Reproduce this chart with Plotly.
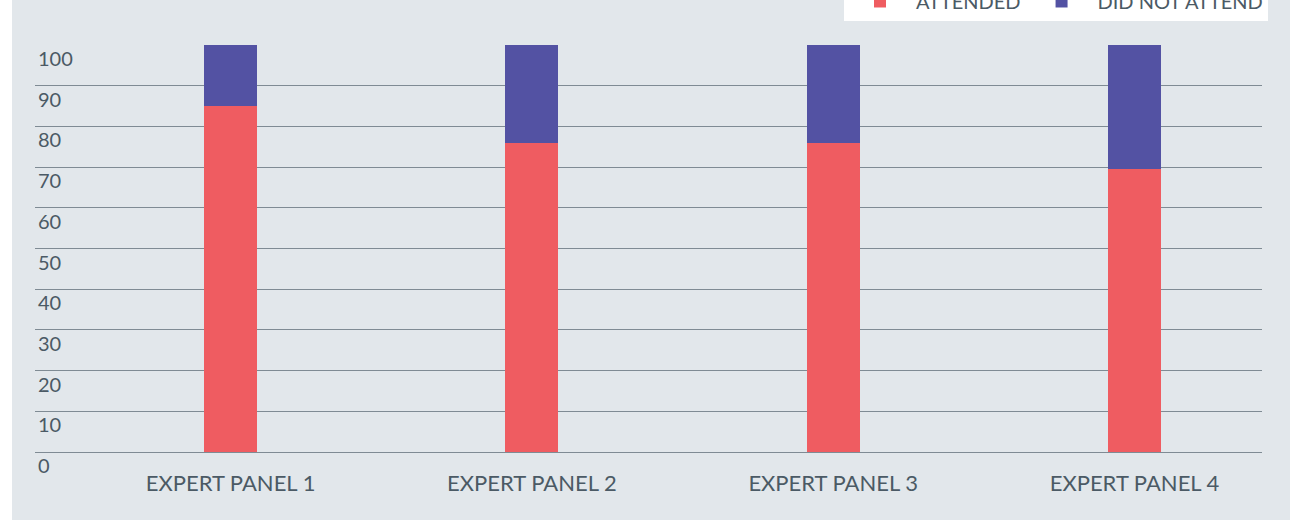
import plotly.graph_objects as go

categories = ["EXPERT PANEL 1", "EXPERT PANEL 2", "EXPERT PANEL 3", "EXPERT PANEL 4"]
attended = [85, 76, 76, 69.6]
did_not_attend = [15, 24, 24, 30.4]
y_ticks = [0, 10, 20, 30, 40, 50, 60, 70, 80, 90, 100]

RED = "#ef5c61"
PURPLE = "#5352a3"
BG = "#e2e7eb"
TXT = "#4b5a65"
FONT = "Lato, sans-serif"

fig = go.Figure()
fig.add_trace(go.Bar(x=categories, y=attended, name="ATTENDED", marker_color=RED,
                     marker_line_width=0, width=0.176))
fig.add_trace(go.Bar(x=categories, y=did_not_attend, name="DID NOT ATTEND", marker_color=PURPLE,
                     marker_line_width=0, width=0.176))

fig.update_layout(
    barmode="stack",
    width=1290, height=520,
    margin=dict(l=35, r=28, t=45, b=68, autoexpand=False),
    paper_bgcolor=BG, plot_bgcolor=BG,
    font=dict(family=FONT, color=TXT, size=20),
    showlegend=True,
    legend=dict(orientation="h", x=1.0049, xanchor="right", y=1.059, yanchor="bottom",
                bgcolor="white", font=dict(size=20, color=TXT, family=FONT),
                traceorder="normal", itemwidth=62),
    shapes=[dict(type="rect", xref="paper", yref="paper", x0=-35/1227, x1=-23/1227,
                 y0=-0.2, y1=1.2, fillcolor="white", line_width=0, layer="below")],
)
fig.update_xaxes(range=[-0.649, 3.423], showgrid=False, showline=False, zeroline=False,
                 ticks="", ticklabelstandoff=16,
                 tickfont=dict(size=22, color=TXT, family=FONT))
fig.update_yaxes(range=[0, 100], tickvals=y_ticks, ticktext=[str(v) for v in y_ticks],
                 showgrid=True, gridcolor="#7f8b94", gridwidth=1.3, zeroline=True,
                 zerolinecolor="#7f8b94", zerolinewidth=1.3,
                 ticklabelposition="inside bottom", ticklabeloverflow="allow",
                 tickfont=dict(size=20, color=TXT, family=FONT), showline=False)

fig.write_html("out.html", config={"displayModeBar": False},
               post_script="document.body.style.margin='0';")
